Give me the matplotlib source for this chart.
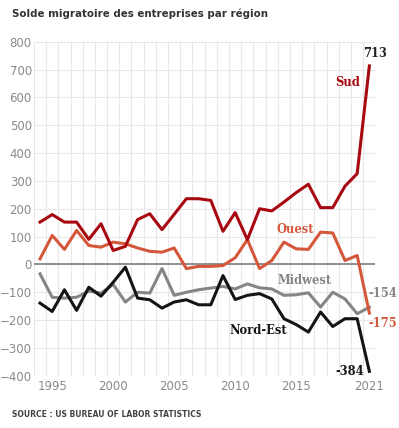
import matplotlib.pyplot as plt
import numpy as np

annees = list(range(1994, 2022))

sud = [152, 179, 152, 152, 90, 146, 50, 65, 161, 182, 125, 180, 236, 236, 230, 119,
       186, 89, 200, 192, 224, 258, 288, 204, 204, 281, 326, 713]
ouest = [20, 104, 54, 122, 68, 62, 80, 74, 59, 47, 44, 59, -15, -7, -7, -4,
         24, 89, -15, 14, 80, 56, 54, 116, 113, 14, 32, -175]
midwest = [-34, -118, -121, -118, -96, -103, -72, -135, -100, -103, -15, -111, -100, -91, -85, -79,
           -88, -70, -84, -88, -111, -109, -102, -153, -100, -124, -177, -154]
nord_est = [-139, -169, -91, -165, -82, -114, -64, -10, -121, -127, -157, -135, -127, -145, -145, -40,
            -126, -111, -105, -124, -195, -216, -243, -171, -223, -195, -195, -384]

xticks = [1995, 2000, 2005, 2010, 2015, 2021]
yticks = list(range(-400, 801, 100))

c_sud = '#a8080f'
c_ouest = '#d5573b'
c_mid = '#858585'
c_ne = '#141414'

fig = plt.figure(figsize=(3.99, 4.28), dpi=100)
ax = fig.add_axes([0.085, 0.122, 0.856, 0.7806])

# grille
for a in np.arange(1993.5, 2022, 1):
    ax.axvline(a, color='#e8e8e8', lw=0.8, zorder=0)
for v in yticks:
    ax.axhline(v, color='#e8e8e8', lw=0.8, zorder=0)
ax.axhline(0, color='#8f8f8f', lw=1.4, zorder=1)

lw = 2.2
ax.plot(annees, midwest, color=c_mid, lw=lw, zorder=2)
ax.plot(annees, nord_est, color=c_ne, lw=lw, zorder=3)
ax.plot(annees, ouest, color=c_ouest, lw=lw, zorder=4)
ax.plot(annees, sud, color=c_sud, lw=lw, zorder=5)

ax.set_xlim(1993.5, 2021.5)
ax.set_ylim(-400, 800)
ax.set_xticks(xticks)
ax.set_yticks(yticks)
ax.tick_params(length=0, colors='#8a8a8a', labelsize=8.5)
ax.tick_params(axis='y', pad=1.5)
ax.tick_params(axis='x', pad=3)
for s in ax.spines.values():
    s.set_visible(False)

serif = dict(family='DejaVu Serif', fontweight='bold', fontsize=8.3)
ax.text(2019.2, 655, 'Sud', color=c_sud, ha='center', va='center', **serif)
ax.text(2021.5, 759, str(sud[-1]), color='#222222', ha='center', va='center', **serif)
ax.text(2014.9, 126, 'Ouest', color=c_ouest, ha='center', va='center', **serif)
ax.text(2015.7, -58, 'Midwest', color=c_mid, ha='center', va='center', **serif)
ax.text(2011.9, -237, 'Nord-Est', color=c_ne, ha='center', va='center', **serif)
ax.text(2020.95, -104, str(midwest[-1]), color=c_mid, ha='left', va='center', **serif)
ax.text(2020.95, -212, str(ouest[-1]), color=c_ouest, ha='left', va='center', **serif)
ax.text(2020.55, -385, str(nord_est[-1]), color=c_ne, ha='right', va='center', **serif)

fig.text(0.03, 0.968, 'Solde migratoire des entreprises par région', fontsize=7.4,
         fontweight='bold', color='#333333', va='center', ha='left')
fig.text(0.03, 0.032, 'SOURCE : US BUREAU OF LABOR STATISTICS', fontsize=5.5,
         fontweight='bold', color='#444444', va='center', ha='left')

fig.savefig('out.png', dpi=100)
